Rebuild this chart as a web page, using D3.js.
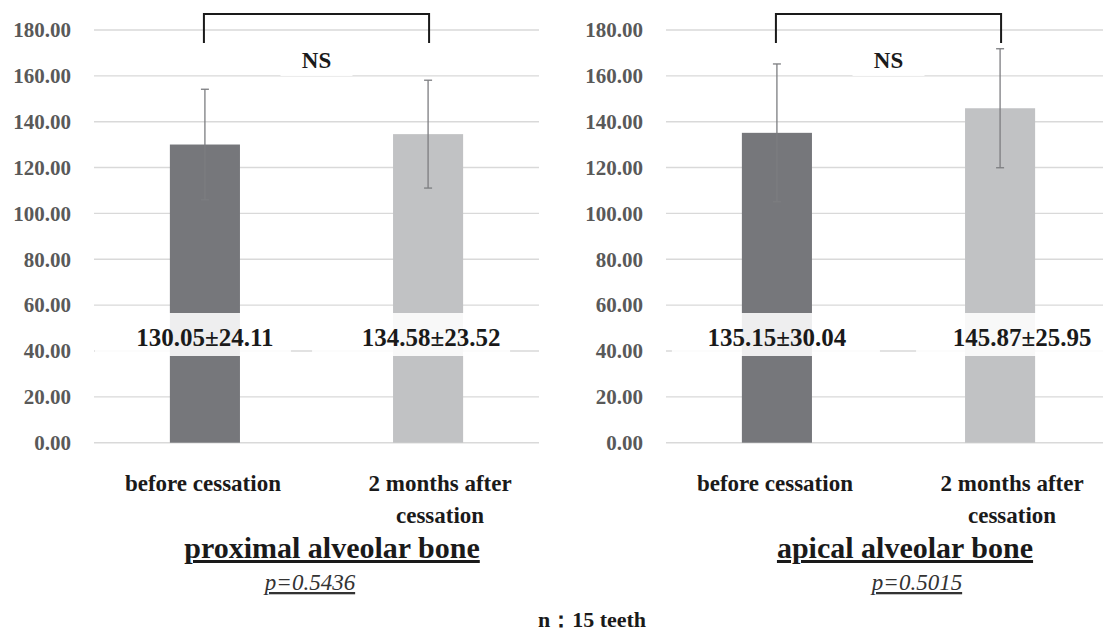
<!DOCTYPE html>
<html>
<head>
<meta charset="utf-8">
<script src="https://cdn.jsdelivr.net/npm/d3@7"></script>
</head>
<body style="margin:0">
<svg id="chart" width="1103" height="631"></svg>
<script>
// Bone values (mean ± SD) before and two months after cessation
const categories = ["before cessation", "2 months after cessation"];
const proximalMeans = [130.05, 134.58];
const proximalSD = [24.11, 23.52];
const apicalMeans = [135.15, 145.87];
const apicalSD = [30.04, 25.95];
const yTicks = [0, 20, 40, 60, 80, 100, 120, 140, 160, 180];
const panelTitles = ["proximal alveolar bone", "apical alveolar bone"];
const pValues = ["p=0.5436", "p=0.5015"];
const significance = ["NS", "NS"];
const footnote = "n\uFF1A15 teeth";

// Layout for each panel (value-label boxes given as spans around the bar centre)
const panels = [
  { means: proximalMeans, sd: proximalSD, x0: 94, labelRight: 71,
    titleX: 332, pX: 310, valueNudge: [0, 3], boxSpan: [[-110, 86], [-116, 82]] },
  { means: apicalMeans, sd: apicalSD, x0: 666, labelRight: 643,
    titleX: 905, pX: 917, valueNudge: [0, 22], boxSpan: [[-105, 103], [-84, 111]] }
];

const plotW = 445;
const yTop = 30, yBottom = 442.7;
const barColors = ["#76777b", "#c1c2c4"];
const errColor = "#7c7d80";
const gridColor = "#d9d9d9";
const serif = "Liberation Serif";

const svg = d3.select("#chart");

const y = d3.scaleLinear().domain([0, 180]).range([yBottom, yTop]);

// Serif text helper: family, size and weight as inline style
const txt = (sel, size, italic) => {
  sel.style("font-family", serif).style("font-size", size + "px");
  if (italic) sel.style("font-style", "italic");
  else sel.style("font-weight", "bold");
  return sel;
};

panels.forEach((p, pi) => {
  const g = svg.append("g");

  const x = d3.scaleBand()
    .domain(categories)
    .range([p.x0, p.x0 + plotW])
    .paddingInner(0.686)
    .paddingOuter(0.34);
  const cx = d => x(d) + x.bandwidth() / 2;

  // Horizontal gridlines
  g.selectAll("line.grid")
    .data(yTicks)
    .join("line")
    .attr("class", "grid")
    .attr("x1", p.x0).attr("x2", p.x0 + plotW)
    .attr("y1", d => y(d)).attr("y2", d => y(d))
    .attr("stroke", gridColor).attr("stroke-width", 1.4);

  // Y tick labels
  const fmt = d3.format(".2f");
  g.selectAll("text.ytick")
    .data(yTicks)
    .join("text")
    .attr("class", "ytick")
    .attr("x", p.labelRight)
    .attr("y", d => y(d))
    .attr("dy", "0.35em")
    .attr("text-anchor", "end")
    .attr("fill", "#595959")
    .text(d => fmt(d))
    .call(s => txt(s, 21));

  // Bars
  g.selectAll("rect.bar")
    .data(categories)
    .join("rect")
    .attr("class", "bar")
    .attr("x", d => x(d))
    .attr("width", x.bandwidth())
    .attr("y", (d, i) => y(p.means[i]))
    .attr("height", (d, i) => y(0) - y(p.means[i]))
    .attr("fill", (d, i) => barColors[i]);

  // Error bars (±SD)
  const err = g.selectAll("g.err")
    .data(categories)
    .join("g")
    .attr("class", "err")
    .attr("stroke", errColor)
    .attr("stroke-width", 1.3);
  err.append("line")
    .attr("x1", d => cx(d)).attr("x2", d => cx(d))
    .attr("y1", (d, i) => y(p.means[i] - p.sd[i]))
    .attr("y2", (d, i) => y(p.means[i] + p.sd[i]));
  [-1, 1].forEach(s => {
    err.append("line")
      .attr("x1", d => cx(d) - 4).attr("x2", d => cx(d) + 4)
      .attr("y1", (d, i) => y(p.means[i] + s * p.sd[i]))
      .attr("y2", (d, i) => y(p.means[i] + s * p.sd[i]));
  });

  // Value labels on translucent boxes
  categories.forEach((c, i) => {
    g.append("rect")
      .attr("x", cx(c) + p.boxSpan[i][0])
      .attr("width", p.boxSpan[i][1] - p.boxSpan[i][0])
      .attr("y", 313)
      .attr("height", 43)
      .attr("fill", "#ffffff")
      .attr("fill-opacity", 0.88);
    txt(g.append("text"), 25)
      .attr("x", cx(c) + p.valueNudge[i])
      .attr("y", 346)
      .attr("text-anchor", "middle")
      .attr("fill", "#1a1a1a")
      .text(`${p.means[i].toFixed(2)}\u00B1${p.sd[i].toFixed(2)}`);
  });

  // Significance bracket
  const c1 = cx(categories[0]), c2 = cx(categories[1]);
  g.append("path")
    .attr("d", `M${c1 - 1},43 V14 H${c2 + 1} V43`)
    .attr("fill", "none")
    .attr("stroke", "#1a1a1a")
    .attr("stroke-width", 2);
  const mid = (c1 + c2) / 2;
  g.append("rect")
    .attr("x", mid - 36).attr("width", 72)
    .attr("y", 44).attr("height", 32)
    .attr("fill", "#ffffff").attr("fill-opacity", 0.92);
  txt(g.append("text"), 23)
    .attr("x", mid)
    .attr("y", 68)
    .attr("text-anchor", "middle")
    .attr("fill", "#1a1a1a")
    .text(significance[pi]);

  // Category labels
  const catText = (s, xx, yy) => txt(g.append("text"), 23)
    .attr("x", xx).attr("y", yy)
    .attr("text-anchor", "middle")
    .attr("fill", "#1a1a1a")
    .text(s);
  catText(categories[0], c1 - 2, 491);
  const words = categories[1].split(" ");
  catText(words.slice(0, 3).join(" "), c2 + 12, 491);
  catText(words.slice(3).join(" "), c2 + 12, 523);

  // Panel title (underlined)
  txt(g.append("text"), 30)
    .attr("x", p.titleX).attr("y", 558)
    .attr("text-anchor", "middle")
    .attr("fill", "#1a1a1a")
    .style("text-decoration", "underline")
    .text(panelTitles[pi]);

  // p-value (italic, underlined)
  txt(g.append("text"), 23, true)
    .attr("x", p.pX).attr("y", 590)
    .attr("text-anchor", "middle")
    .attr("fill", "#333333")
    .style("text-decoration", "underline")
    .text(pValues[pi]);
});

// Sample size note
txt(svg.append("text"), 22)
  .attr("x", 592).attr("y", 627)
  .attr("text-anchor", "middle")
  .attr("fill", "#1a1a1a")
  .text(footnote);
</script>
</body>
</html>
